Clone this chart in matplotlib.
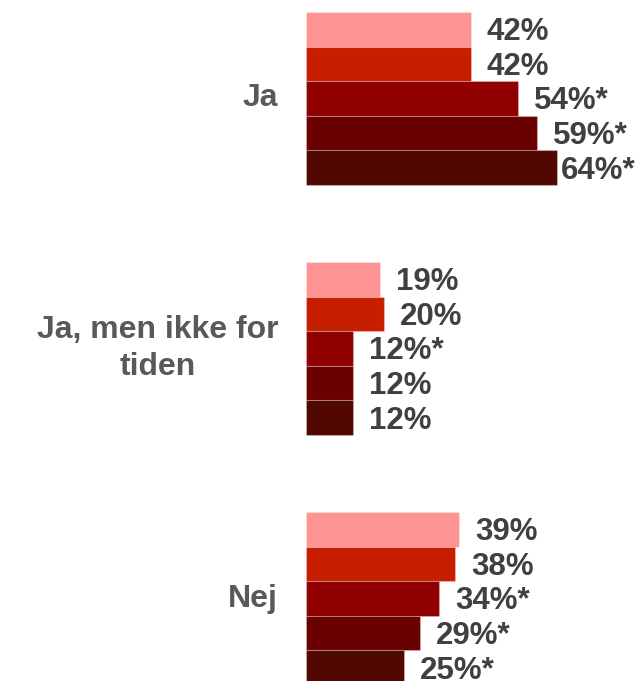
import matplotlib
matplotlib.use("Agg")
import matplotlib.pyplot as plt

categories = ["Ja", "Ja, men ikke for\ntiden", "Nej"]
series_values = [
    [42, 19, 39],
    [42, 20, 38],
    [54, 12, 34],
    [59, 12, 29],
    [64, 12, 25],
]
value_labels = [
    ["42%", "19%", "39%"],
    ["42%", "20%", "38%"],
    ["54%*", "12%*", "34%*"],
    ["59%*", "12%", "29%*"],
    ["64%*", "12%", "25%*"],
]
colors = ["#FF9494", "#C81E00", "#900000", "#6B0000", "#500800"]

plt.rcParams['font.family'] = ['Liberation Sans', 'DejaVu Sans']

fig = plt.figure(figsize=(6.38, 6.81), dpi=100)
ax = fig.add_axes([306/638, 0, 1 - 306/638, 1])

n = len(series_values)
group_h = 173.2 / 250.0
bar_h = group_h / n

texts = []
for j, vals in enumerate(series_values):
    ys = [i - group_h/2 + bar_h*(j + 0.5) for i in range(len(categories))]
    ax.barh(ys, vals, height=bar_h, color=colors[j],
            edgecolor=(1, 1, 1, 0.25), linewidth=0.8)
    for y, v, lab in zip(ys, vals, value_labels[j]):
        t = ax.annotate(lab, (v, y), xytext=(11.5, -2), textcoords='offset points',
                        ha='left', va='center', fontsize=22.5, fontweight='bold',
                        color='#404040')
        texts.append(t)

for i, cat in enumerate(categories):
    ax.annotate(cat, (0, i), xytext=(-20, 0), textcoords='offset points',
                ha='right', va='center', multialignment='center',
                fontsize=23, fontweight='bold', color='#595959',
                linespacing=1.27, annotation_clip=False)

ax.set_xlim(0, 332/3.92)
ax.set_ylim((681 - 98.5)/250, -98.5/250)
ax.axis('off')

# shift labels that would run past the right edge
fig.canvas.draw()
renderer = fig.canvas.get_renderer()
W = fig.get_figwidth() * fig.dpi
for t in texts:
    bb = t.get_window_extent(renderer)
    over = bb.x1 - (W - 2)
    if over > 0:
        dx_pt = over * 72 / fig.dpi
        x0, y0 = t.xyann
        t.xyann = (x0 - dx_pt, y0)

fig.savefig("out.png", dpi=100)
